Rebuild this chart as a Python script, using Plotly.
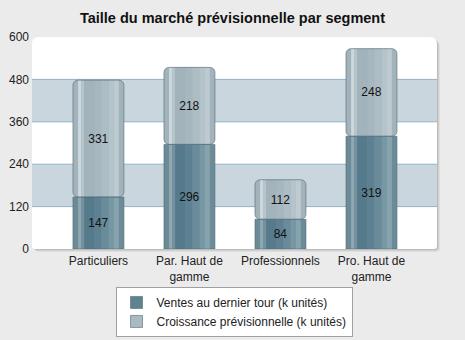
import plotly.graph_objects as go

# Market-size forecast per segment (thousand units)
categories = ["Particuliers", "Par. Haut de<br>gamme", "Professionnels", "Pro. Haut de<br>gamme"]
ventes = [147, 296, 84, 319]
croissance = [331, 218, 112, 248]
series_names = ["Ventes au dernier tour (k unités)", "Croissance prévisionnelle (k unités)"]
y_ticks = [0, 120, 240, 360, 480, 600]

FONT = "Liberation Sans, Arial, sans-serif"
BAR_W = 0.56

# vertical stripes that give each bar a cylinder-like shading (fractions of bar width)
dark_stripes = [
    (0.10, 0.16, "#8fa8b2"), (0.16, 0.22, "#7491a0"), (0.22, 0.42, "#557a8b"),
    (0.42, 0.56, "#5d8192"), (0.56, 0.70, "#698b9a"), (0.70, 0.80, "#7797a4"),
    (0.80, 0.90, "#86a3ae"),
]
light_stripes = [
    (0.10, 0.16, "#cdd8dd"), (0.16, 0.22, "#b6c5cb"), (0.22, 0.42, "#a2b3bb"),
    (0.42, 0.56, "#a6b7bf"), (0.56, 0.70, "#adbdc4"), (0.70, 0.80, "#b5c3ca"),
    (0.80, 0.90, "#bdcacf"),
]

fig = go.Figure()


def add_series(values, base, name, edge_color, stripes, rounded):
    radius = 5 if rounded else 0
    # full-width body of the bar
    fig.add_trace(go.Bar(
        x=categories, y=values, base=base, name=name, legendgroup=name,
        width=BAR_W, offset=-BAR_W / 2,
        marker=dict(color=edge_color, line=dict(width=0), cornerradius=radius),
        showlegend=False, hoverinfo="skip",
    ))
    # shading stripes
    for f0, f1, col in stripes:
        fig.add_trace(go.Bar(
            x=categories, y=values, base=base, legendgroup=name,
            width=(f1 - f0) * BAR_W, offset=-BAR_W / 2 + f0 * BAR_W,
            marker=dict(color=col, line=dict(width=0)),
            showlegend=False, hoverinfo="skip",
        ))


add_series(ventes, [0] * len(ventes), series_names[0], "#6c8b98", dark_stripes, False)
add_series(croissance, ventes, series_names[1], "#a3b3bb", light_stripes, True)

# outline + value labels on top, plus legend entries
for values, base, name, swatch, radius in [
    (ventes, [0] * len(ventes), series_names[0], "#5f8292", 0),
    (croissance, ventes, series_names[1], "#a9bac2", 5),
]:
    fig.add_trace(go.Bar(
        x=categories, y=values, base=base, name=name, legendgroup=name,
        width=BAR_W, offset=-BAR_W / 2,
        marker=dict(color="rgba(0,0,0,0)", line=dict(color="rgba(80,105,116,0.75)", width=0.8),
                    cornerradius=radius),
        text=[str(v) for v in values], textposition="inside",
        insidetextanchor="middle", textangle=0,
        textfont=dict(family=FONT, size=12, color="#111111"),
        showlegend=False, hoverinfo="x+y",
    ))
    # legend swatch
    fig.add_trace(go.Bar(
        x=[None], y=[None], name=name, legendgroup=name,
        marker=dict(color=swatch, line=dict(color="rgba(80,105,116,0.75)", width=0.8)),
        showlegend=True,
    ))

# plot panel: soft shadow + white rounded card
PW, PH = 405.0, 212.0


def rounded_rect(dx, dy, r_top, r_bot):
    sx, sy = 1 / PW, 1 / PH
    x0, x1 = 0 + dx * sx, 1 + dx * sx
    y0, y1 = 0 - dy * sy, 1 - dy * sy
    rtx, rty = r_top * sx, r_top * sy
    rbx, rby = r_bot * sx, r_bot * sy
    return (f"M {x0 + rbx},{y0} L {x1 - rbx},{y0} Q {x1},{y0} {x1},{y0 + rby} "
            f"L {x1},{y1 - rty} Q {x1},{y1} {x1 - rtx},{y1} "
            f"L {x0 + rtx},{y1} Q {x0},{y1} {x0},{y1 - rty} "
            f"L {x0},{y0 + rby} Q {x0},{y0} {x0 + rbx},{y0} Z")


shapes = []
for off, alpha in [(3, 0.05), (2, 0.07), (1, 0.09)]:
    shapes.append(dict(type="path", xref="paper", yref="paper", layer="below",
                       path=rounded_rect(off, off, 7, 4),
                       fillcolor=f"rgba(0,0,0,{alpha})", line=dict(width=0)))
shapes.append(dict(type="path", xref="paper", yref="paper", layer="below",
                   path=rounded_rect(0, 0, 7, 3), fillcolor="white", line=dict(width=0)))

# alternating bands and band lines
for lo, hi in [(120, 240), (360, 480)]:
    shapes.append(dict(type="rect", xref="paper", yref="y", x0=0, x1=1, y0=lo, y1=hi,
                       fillcolor="#c9d6de", line=dict(width=0), layer="below"))
for yv in y_ticks[1:-1]:
    shapes.append(dict(type="line", xref="paper", yref="y", x0=0, x1=1, y0=yv, y1=yv,
                       line=dict(color="#92b2c7", width=1), layer="below"))

fig.update_layout(
    width=465, height=340,
    margin=dict(l=32, r=28, t=37, b=91, autoexpand=False),
    paper_bgcolor="#ebebeb", plot_bgcolor="rgba(0,0,0,0)",
    barmode="overlay",
    font=dict(family=FONT, size=12, color="#222222"),
    title=dict(text="Taille du marché prévisionnelle par segment",
               font=dict(family=FONT, size=14.5, color="#111111", weight="bold"),
               x=0.5, xanchor="center", y=1 - 18 / 340, yanchor="middle"),
    xaxis=dict(range=[-0.73, 3.72], showgrid=False, zeroline=False, showline=False,
               ticks="", automargin=False, ticklabelstandoff=3,
               tickfont=dict(family=FONT, size=12, color="#222222")),
    yaxis=dict(range=[0, 600], tickvals=y_ticks, showgrid=False, zeroline=False,
               showline=False, ticks="", automargin=False, ticklabelstandoff=2,
               tickfont=dict(family=FONT, size=12, color="#222222")),
    legend=dict(orientation="v", x=0.4988, xanchor="center", y=-0.179, yanchor="top",
                bgcolor="white", bordercolor="#a0a0a0", borderwidth=1,
                font=dict(family=FONT, size=12, color="#222222"), tracegroupgap=0),
    shapes=shapes,
    showlegend=True,
)

fig.write_html("out.html")
